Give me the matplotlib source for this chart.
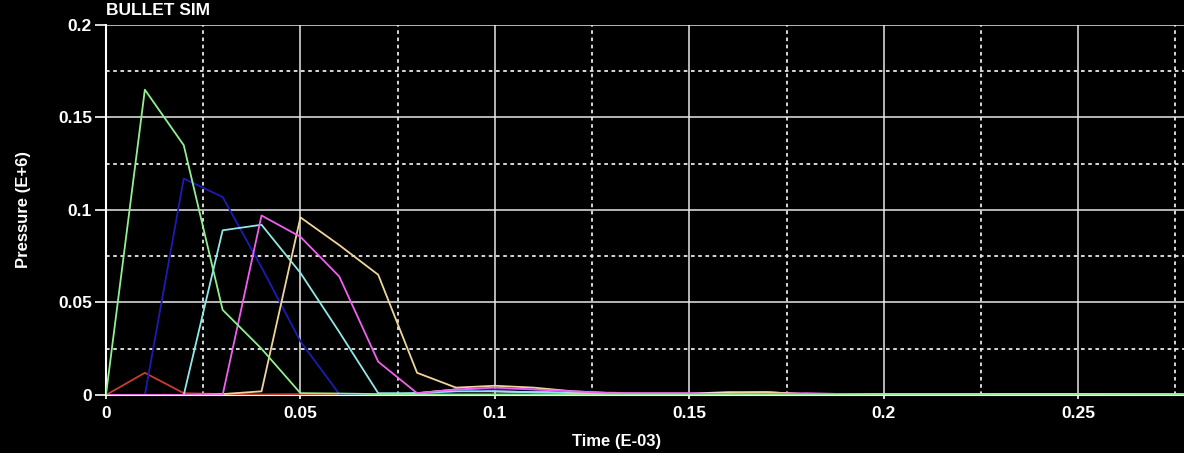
import matplotlib.pyplot as plt
from matplotlib.ticker import MultipleLocator

plt.rcParams['font.family'] = ['Liberation Sans', 'DejaVu Sans']

# time samples (E-03)
time = [0.00, 0.01, 0.02, 0.03, 0.04, 0.05, 0.06, 0.07, 0.08, 0.09,
        0.10, 0.11, 0.12, 0.13, 0.14, 0.15, 0.16, 0.17, 0.18, 0.19,
        0.20, 0.21, 0.22, 0.23, 0.24, 0.25, 0.26, 0.27, 0.28]

# pressure (E+6) per gauge
p_red = [0.0, 0.012, 0.001, 0.0005, 0.0003, 0.0005, 0.0004, 0.0003, 0.0, 0.0,
         0.0, 0.0, 0.0, 0.0, 0.0, 0.0, 0.0, 0.0, 0.0, 0.0,
         0.0, 0.0, 0.0, 0.0, 0.0, 0.0, 0.0, 0.0, 0.0]
p_green = [0.0, 0.165, 0.135, 0.046, 0.025, 0.001, 0.0008, 0.0005, 0.0003, 0.0003,
           0.0003, 0.0003, 0.0002, 0.0002, 0.0002, 0.0002, 0.0002, 0.0002, 0.0002, 0.0002,
           0.0002, 0.0002, 0.0002, 0.0002, 0.0002, 0.0002, 0.0002, 0.0002, 0.0002]
p_blue = [0.0, 0.0, 0.117, 0.107, 0.069, 0.029, 0.0005, 0.0003, 0.0005, 0.002,
          0.003, 0.003, 0.002, 0.0015, 0.0, 0.0, 0.0, 0.0, 0.0, 0.0,
          0.0, 0.0, 0.0, 0.0, 0.0, 0.0, 0.0, 0.0, 0.0]
p_cyan = [0.0, 0.0, 0.0, 0.089, 0.092, 0.066, 0.034, 0.001, 0.001, 0.002,
          0.002, 0.0015, 0.001, 0.001, 0.0, 0.0, 0.0, 0.0, 0.0, 0.0,
          0.0, 0.0, 0.0, 0.0, 0.0, 0.0, 0.0, 0.0, 0.0]
p_magenta = [0.0, 0.0, 0.0, 0.0, 0.097, 0.0855, 0.064, 0.018, 0.001, 0.003,
             0.004, 0.003, 0.002, 0.001, 0.001, 0.001, 0.0005, 0.0005, 0.001, 0.0005,
             0.0, 0.0, 0.0, 0.0, 0.0, 0.0, 0.0, 0.0, 0.0]
p_tan = [0.0, 0.0, 0.0, 0.0005, 0.002, 0.096, 0.081, 0.065, 0.012, 0.004,
         0.005, 0.004, 0.002, 0.001, 0.0005, 0.0005, 0.001, 0.0015, 0.0005, 0.0005,
         0.0005, 0.0005, 0.0005, 0.0005, 0.0005, 0.0005, 0.0005, 0.0005, 0.0005]
p_white = [0.0, 0.0, 0.0, 0.0, 0.0, 0.0, 0.0, 0.0, 0.001, 0.003,
           0.002, 0.0015, 0.0015, 0.0008, 0.0008, 0.0008, 0.0015, 0.0015, 0.0005, 0.0003,
           0.0003, 0.0003, 0.0003, 0.0003, 0.0003, 0.0003, 0.0003, 0.0003, 0.0003]
p_pink = [0.0, 0.0, 0.0, 0.0, 0.0, 0.0, 0.0, 0.0, 0.0, 0.0,
          0.0, 0.0, 0.0, 0.0, 0.0, 0.0, 0.0, 0.0, 0.0, 0.0,
          0.0, 0.0, 0.0, 0.0006, 0.0006, 0.0006, 0.0004, 0.0, 0.0]

x_ticks = [0, 0.05, 0.1, 0.15, 0.2, 0.25]
x_labels = ['0', '0.05', '0.1', '0.15', '0.2', '0.25']
y_ticks = [0, 0.05, 0.1, 0.15, 0.2]
y_labels = ['0', '0.05', '0.1', '0.15', '0.2']

series = [
    (p_white, '#ffffff'),
    (p_pink, '#ffb0a0'),
    (p_red, '#c83c2c'),
    (p_blue, '#1c1cb4'),
    (p_cyan, '#8ee8e8'),
    (p_tan, '#f0d49a'),
    (p_magenta, '#f060f0'),
    (p_green, '#90f090'),
]

fig = plt.figure(figsize=(11.84, 4.53), dpi=100, facecolor='black')
ax = fig.add_axes([0.0895, 0.128, 0.9105, 0.817])
ax.set_facecolor('black')

for vals, col in series:
    ax.plot(time, vals, color=col, linewidth=1.3, zorder=3)

ax.set_xlim(0, 0.2772)
ax.set_ylim(0, 0.2)
ax.set_xticks(x_ticks)
ax.set_xticklabels(x_labels)
ax.set_yticks(y_ticks)
ax.set_yticklabels(y_labels)
ax.xaxis.set_minor_locator(MultipleLocator(0.025))
ax.yaxis.set_minor_locator(MultipleLocator(0.025))

ax.grid(which='major', color='#e8e8e8', linestyle='-', linewidth=1.1, zorder=1)
ax.grid(which='minor', color='#e8e8e8', linestyle=(0, (2, 2)), linewidth=1.3, zorder=1)

for side in ['top', 'right']:
    ax.spines[side].set_visible(False)
for side in ['left', 'bottom']:
    ax.spines[side].set_color('white')
    ax.spines[side].set_linewidth(1.5)

ax.tick_params(axis='both', which='major', colors='white', labelsize=12.5,
               length=8, width=1.2, pad=2)
ax.tick_params(axis='x', which='major', length=3, pad=5)
ax.tick_params(axis='both', which='minor', length=0)
for lbl in ax.get_xticklabels() + ax.get_yticklabels():
    lbl.set_fontweight('bold')

ax.set_xlabel('Time (E-03)', color='white', fontsize=12, fontweight='bold')
ax.xaxis.set_label_coords(0.474, -0.105)
ax.set_ylabel('Pressure (E+6)', color='white', fontsize=12, fontweight='bold')
ax.yaxis.set_label_coords(-0.07, 0.5)

fig.text(0.0895, 0.96, 'BULLET SIM', color='white', fontsize=12.5,
         fontweight='bold', ha='left', va='bottom')

fig.savefig('out.png', dpi=100, facecolor='black')
